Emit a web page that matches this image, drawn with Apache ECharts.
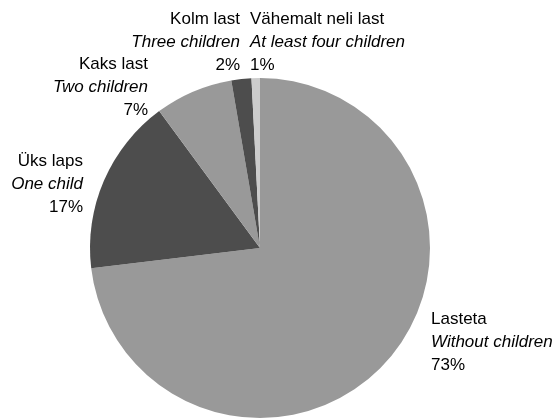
<!DOCTYPE html>
<html>
<head>
<meta charset="utf-8">
<script src="https://cdn.jsdelivr.net/npm/echarts@6/dist/echarts.min.js"></script>
<style>
html,body{margin:0;padding:0;background:#fff;}
#chart{width:559px;height:419px;}
</style>
</head>
<body>
<div id="chart"></div>
<script>
// Data
var namesEt = ['Lasteta', 'Üks laps', 'Kaks last', 'Kolm last', 'Vähemalt neli last'];
var namesEn = ['Without children', 'One child', 'Two children', 'Three children', 'At least four children'];
var shares = [73.1, 16.8, 7.4, 1.9, 0.8];

// Styling (kept separate from data)
var sliceColors = ['#999999', '#4d4d4d', '#999999', '#4d4d4d', '#cccccc'];
var labelAnchors = [
  {x: 431, y: 342, align: 'left'},
  {x: 83, y: 184, align: 'right'},
  {x: 148, y: 87, align: 'right'},
  {x: 240, y: 42, align: 'right'},
  {x: 250, y: 42, align: 'left'}
];

var FONT = 'Liberation Sans, Arial, sans-serif';
var chart = echarts.init(document.getElementById('chart'), null, {renderer: 'canvas'});
var data = shares.map(function (v, i) {
  return {
    value: v,
    name: namesEt[i],
    itemStyle: {color: sliceColors[i]},
    label: {align: labelAnchors[i].align}
  };
});

chart.setOption({
  animation: false,
  series: [{
    type: 'pie',
    center: [260, 248],
    radius: 170,
    startAngle: 90,
    clockwise: true,
    silent: true,
    data: data,
    itemStyle: {borderWidth: 0},
    labelLine: {show: false},
    label: {
      show: true,
      position: 'outside',
      overflow: 'none',
      color: '#000',
      fontFamily: FONT,
      fontSize: 17,
      lineHeight: 23,
      formatter: function (p) {
        return '{a|' + namesEt[p.dataIndex] + '}\n{b|' + namesEn[p.dataIndex] + '}\n{a|' + Math.round(p.percent) + '%}';
      },
      rich: {
        a: {fontSize: 17, lineHeight: 23, color: '#000', fontFamily: FONT},
        b: {fontSize: 17, lineHeight: 23, fontStyle: 'italic', color: '#000', fontFamily: FONT}
      }
    },
    labelLayout: function (params) {
      var a = labelAnchors[params.dataIndex];
      return {x: a.x, y: a.y, align: a.align, verticalAlign: 'middle'};
    }
  }]
});
</script>
</body>
</html>
